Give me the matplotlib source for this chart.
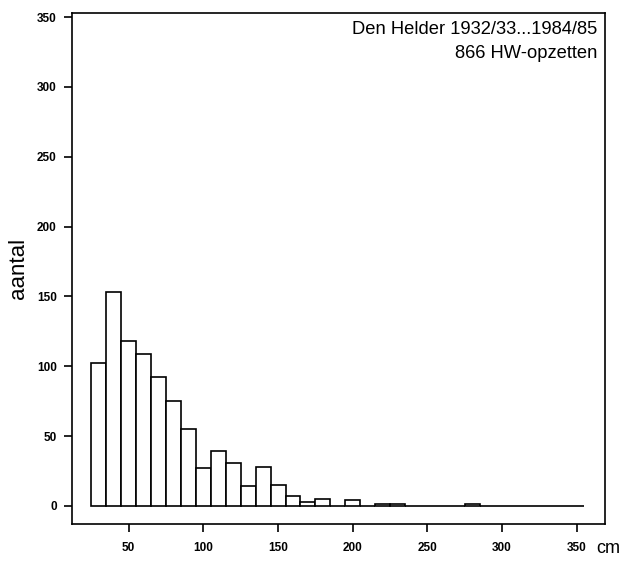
import numpy as np
import matplotlib.pyplot as plt
from matplotlib.transforms import blended_transform_factory

plt.rcParams['font.family'] = ['Liberation Sans', 'DejaVu Sans']

# histogram of storm surge heights, 10 cm classes starting at 25 cm
bin_left = np.arange(25, 355, 10)
counts = [102, 153, 118, 109, 92, 75, 55, 27, 39, 31, 14, 28, 15, 7,
          3, 5, 0, 4, 0, 1, 1, 0, 0, 0, 0, 1, 0, 0, 0, 0, 0, 0, 0]

xticks = [50, 100, 150, 200, 250, 300, 350]
yticks = [0, 50, 100, 150, 200, 250, 300, 350]

title_lines = ['Den Helder 1932/33...1984/85', '866 HW-opzetten']

fig = plt.figure(figsize=(6.24, 5.62), dpi=100)
ax = fig.add_axes([0.1154, 0.0676, 0.8542, 0.9093])

ax.bar(bin_left, counts[:len(bin_left)], width=10, align='edge',
       facecolor='white', edgecolor='black', linewidth=1.2)

ax.set_xlim(12, 369)
ax.set_ylim(-13, 353)
ax.set_xticks(xticks)
ax.set_yticks(yticks)
ax.tick_params(direction='out', length=6, width=1.2, labelsize=8.5)
ax.tick_params(axis='x', pad=7)
ax.tick_params(axis='y', pad=5)
for lab in ax.get_xticklabels() + ax.get_yticklabels():
    lab.set_fontweight('bold')
for sp in ax.spines.values():
    sp.set_linewidth(1.2)

ax.set_ylabel('aantal', fontsize=16, labelpad=6)

# unit label next to the last x tick label
trans = blended_transform_factory(ax.transData, ax.transAxes)
ax.text(363, -0.047, 'cm', transform=trans, fontsize=13,
        ha='left', va='center')

ax.text(0.985, 0.985, '\n'.join(title_lines), transform=ax.transAxes,
        fontsize=13.2, ha='right', va='top', linespacing=1.55,
        multialignment='right')

plt.savefig('out.png', dpi=100)
